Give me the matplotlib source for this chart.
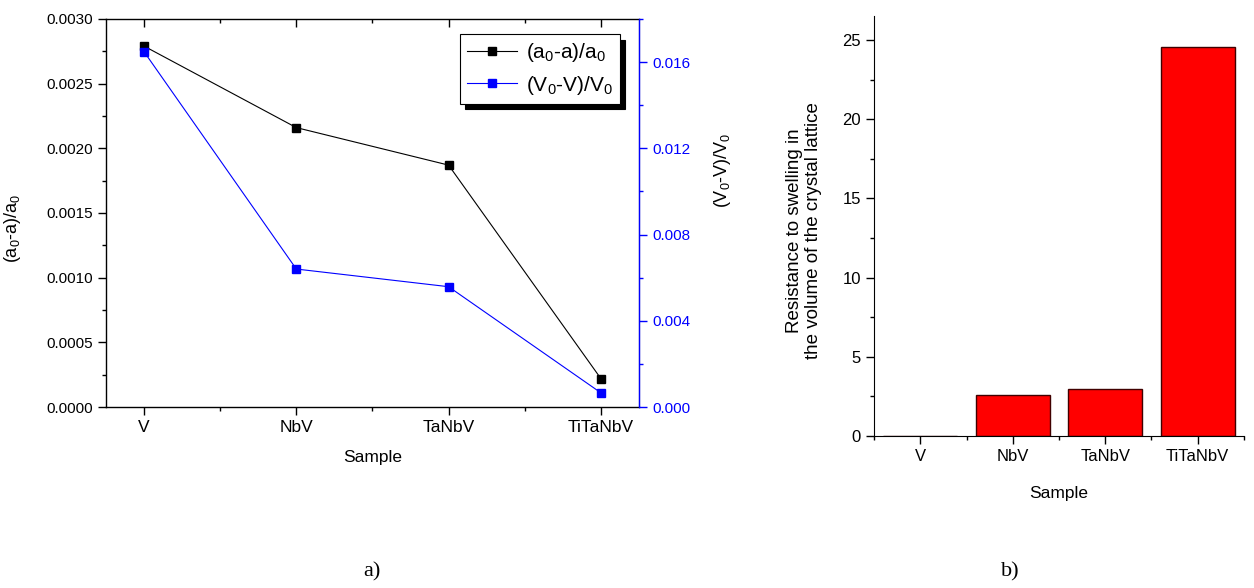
import numpy as np
import matplotlib
matplotlib.use("Agg")
import matplotlib.pyplot as plt
from matplotlib.patches import Shadow
from matplotlib.ticker import MultipleLocator, FormatStrFormatter

plt.rcParams['font.family'] = ['Liberation Sans', 'DejaVu Sans']
plt.rcParams['mathtext.fontset'] = 'custom'
plt.rcParams['mathtext.rm'] = 'Liberation Sans'
plt.rcParams['mathtext.it'] = 'Liberation Sans'

samples = ['V', 'NbV', 'TaNbV', 'TiTaNbV']
lattice_rel = [0.00279, 0.00216, 0.00187, 0.00022]    # (a0-a)/a0
volume_rel = [0.01648, 0.0064, 0.00558, 0.00066]      # (V0-V)/V0
resistance = [0.0, 2.56, 2.98, 24.56]

fig = plt.figure(figsize=(12.54, 5.88), dpi=100)

# ---- a) two y-axes line chart
ax = fig.add_axes([0.0845, 0.3078, 0.425, 0.660])
ax2 = ax.twinx()
x = np.arange(len(samples))

l1, = ax.plot(x, lattice_rel, color='black', lw=0.8, marker='s', ms=6,
              label=r'(a$_0$-a)/a$_0$')
l2, = ax2.plot(x, volume_rel, color='blue', lw=0.8, marker='s', ms=6,
               label=r'(V$_0$-V)/V$_0$')

ax.set_xlim(-0.25, 3.25)
ax.set_ylim(0, 0.003)
ax2.set_ylim(0, 0.018)
ax.set_xticks(x)
ax.set_xticklabels(samples)
ax.xaxis.set_minor_locator(MultipleLocator(0.5))
ax.yaxis.set_major_locator(MultipleLocator(0.0005))
ax.yaxis.set_minor_locator(MultipleLocator(0.00025))
ax.yaxis.set_major_formatter(FormatStrFormatter('%.4f'))
ax2.yaxis.set_major_locator(MultipleLocator(0.004))
ax2.yaxis.set_minor_locator(MultipleLocator(0.002))
ax2.yaxis.set_major_formatter(FormatStrFormatter('%.3f'))

ax.tick_params(axis='both', which='major', labelsize=11, length=6, width=1)
ax.tick_params(axis='x', which='major', labelsize=12.5)
ax.tick_params(axis='both', which='minor', length=3, width=1)
ax.tick_params(axis='x', which='both', top=True)
ax.tick_params(axis='y', which='both', right=False)
ax2.tick_params(axis='y', which='major', labelsize=11, length=6, width=1,
                colors='blue')
ax2.tick_params(axis='y', which='minor', length=3, width=1, colors='blue')
for s in ['left', 'bottom', 'top']:
    ax.spines[s].set_linewidth(1)
ax2.spines['right'].set_color('blue')
ax2.spines['right'].set_linewidth(1)
ax2.spines['left'].set_visible(False)
ax2.spines['top'].set_visible(False)
ax2.spines['bottom'].set_visible(False)

# top ticks point inward
for t in ax.xaxis.get_major_ticks() + ax.xaxis.get_minor_ticks():
    t.tick2line.set_marker(3)

ax.set_xlabel('Sample', fontsize=12.5, labelpad=11)
ax.set_ylabel(r'(a$_0$-a)/a$_0$', fontsize=13)
ax.yaxis.set_label_coords(-0.155, 0.46)
ax2.set_ylabel(r'(V$_0$-V)/V$_0$', fontsize=13, rotation=90)
ax2.yaxis.set_label_coords(1.138, 0.61)

leg = ax2.legend([l1, l2], [l1.get_label(), l2.get_label()], loc='upper right',
                 bbox_to_anchor=(0.9644, 0.9613), borderaxespad=0,
                 fontsize=15, frameon=True, fancybox=False, handlelength=2.4,
                 handletextpad=0.4, borderpad=0.35, labelspacing=0.45)
leg.get_frame().set_edgecolor('black')
leg.get_frame().set_linewidth(0.8)
leg.get_frame().set_alpha(1)
shadow = Shadow(leg.legendPatch, 4, -4, color='black', alpha=1)
shadow.set_zorder(leg.get_zorder() - 0.1)
ax2.add_artist(shadow)

# ---- b) bar chart
bx = fig.add_axes([0.697, 0.2585, 0.295, 0.714])
bx.bar(x, resistance, width=0.8, color='red', edgecolor='#400000', lw=1)
bx.set_xlim(-0.5, 3.5)
bx.set_ylim(0, 26.5)
bx.set_xticks(x)
bx.set_xticklabels(samples)
bx.xaxis.set_minor_locator(MultipleLocator(0.5))
bx.yaxis.set_major_locator(MultipleLocator(5))
bx.yaxis.set_minor_locator(MultipleLocator(2.5))
bx.spines['top'].set_visible(False)
bx.spines['right'].set_visible(False)
bx.tick_params(axis='both', which='major', length=6, width=1, labelsize=12)
bx.tick_params(axis='both', which='minor', length=3, width=1)
bx.set_xlabel('Sample', fontsize=12.5, labelpad=16)
bx.set_ylabel('Resistance to swelling in\nthe volume of the crystal lattice',
              fontsize=13.5, linespacing=1.15)
bx.yaxis.set_label_coords(-0.14, 0.49)

fig.text(0.2967, 0.027, 'a)', family=['Liberation Serif', 'DejaVu Serif'],
         fontsize=16, ha='center', va='center')
fig.text(0.8055, 0.027, 'b)', family=['Liberation Serif', 'DejaVu Serif'],
         fontsize=16, ha='center', va='center')

fig.canvas.draw()
fig.savefig('out.png', dpi=100)
